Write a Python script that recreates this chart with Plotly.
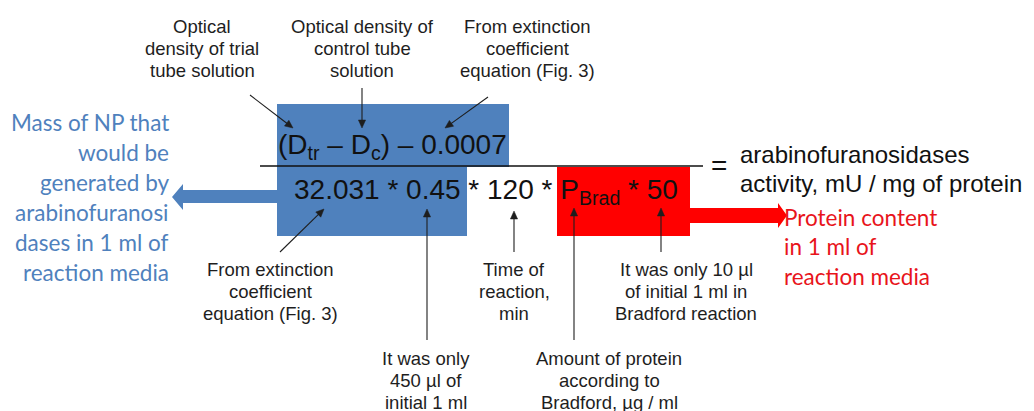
import math
import plotly.graph_objects as go

# ---------------- content ----------------
top_callouts = [
    "Optical<br>density of trial<br>tube solution",
    "Optical density of<br>control tube<br>solution",
    "From extinction<br>coefficient<br>equation (Fig. 3)",
]
bottom_callouts = [
    "From extinction<br>coefficient<br>equation (Fig. 3)",
    "It was only<br>450 µl of<br>initial 1 ml",
    "Time of<br>reaction,<br>min",
    "Amount of protein<br>according to<br>Bradford, µg / ml",
    "It was only 10 µl<br>of initial 1 ml in<br>Bradford reaction",
]
numerator = "(D<sub>tr</sub> – D<sub>c</sub>) – 0.0007"
denominator = "32.031 * 0.45 * 120 * P<sub>Brad</sub> * 50"
result_text = "arabinofuranosidases<br>activity, mU / mg of protein"
blue_note = "Mass of NP that<br>would be<br>generated by<br>arabinofuranosi<br>dases in 1 ml of<br>reaction media"
red_note = "Protein content<br>in 1 ml of<br>reaction media"

# ---------------- layout (pixel space) ----------------
W, H = 1034, 411
OFF = 8  # page body margin of the html page
BLUE = "#4f81bd"
RED = "#ff0000"
INK = "#1e1e1e"
ARIAL = "Liberation Sans, Arial, sans-serif"
CALIBRI = "Lato, Carlito, sans-serif"

# first-line centre of each callout
top_pos = [(202, 26), (362, 26), (527, 26)]
bottom_pos = [(270, 269), (426, 358), (514, 269), (609, 358), (686, 269)]
# thin arrows: (tail_x, tail_y, head_x, head_y)
thin_arrows = [
    (250, 95, 293, 128),
    (362, 88, 362, 128),
    (488, 97, 445, 128),
    (280, 252, 324, 209),
    (427, 340, 427, 209),
    (514, 252, 514, 211),
    (574, 340, 574, 208),
    (661, 252, 661, 208),
]

fig = go.Figure()
fig.add_trace(go.Scatter(x=[OFF, W], y=[OFF, H], mode="markers",
                         marker=dict(opacity=0), hoverinfo="skip", showlegend=False))

shapes = [
    dict(type="rect", x0=277, x1=509, y0=104, y1=167, fillcolor=BLUE, line_width=0, layer="below"),
    dict(type="rect", x0=277, x1=467, y0=165, y1=236, fillcolor=BLUE, line_width=0, layer="below"),
    dict(type="rect", x0=557, x1=690, y0=167, y1=236, fillcolor=RED, line_width=0, layer="below"),
    dict(type="path", path="M 277,190 L 183,190 L 183,184 L 172,197 L 183,210 L 183,203 L 277,203 Z",
         fillcolor=BLUE, line_width=0, layer="below"),
    dict(type="path", path="M 690,208 L 778,208 L 778,203 L 787,215.5 L 778,228 L 778,223 L 690,223 Z",
         fillcolor=RED, line_width=0, layer="below"),
    dict(type="line", x0=260, x1=703, y0=166, y1=166, line=dict(color="#111", width=1.6)),
]

# thin callout arrows drawn as a line + small filled head
HEAD_L, HEAD_W = 8.0, 3.6
for tx, ty, hx, hy in thin_arrows:
    dx, dy = hx - tx, hy - ty
    n = math.hypot(dx, dy)
    ux, uy = dx / n, dy / n
    bx, by = hx - ux * HEAD_L, hy - uy * HEAD_L
    px, py = -uy * HEAD_W, ux * HEAD_W
    shapes.append(dict(type="line", x0=tx, y0=ty, x1=bx + ux * 1, y1=by + uy * 1,
                       line=dict(color=INK, width=1.1)))
    shapes.append(dict(type="path",
                       path=f"M {hx},{hy} L {bx + px:.2f},{by + py:.2f} L {bx - px:.2f},{by - py:.2f} Z",
                       fillcolor=INK, line=dict(color=INK, width=0.5)))

ann = []


def add_lines(text, x, y0, step, anchor, font):
    for i, line in enumerate(text.split("<br>")):
        ann.append(dict(x=x, y=y0 + i * step, text=line, showarrow=False, xanchor=anchor,
                        yanchor="middle", font=font))


small = dict(family=ARIAL, size=18.5, color=INK)
for t, (x, y) in zip(top_callouts, top_pos):
    add_lines(t, x, y, 22, "center", small)
for t, (x, y) in zip(bottom_callouts, bottom_pos):
    add_lines(t, x, y, 22, "center", small)

big = dict(family=ARIAL, size=28, color="#111")
ann.append(dict(x=392, y=146, text=numerator, showarrow=False, xanchor="center", yanchor="middle", font=big))
ann.append(dict(x=486, y=191, text=denominator, showarrow=False, xanchor="center", yanchor="middle", font=big))
ann.append(dict(x=719, y=165, text="=", showarrow=False, xanchor="center", yanchor="middle", font=big))
add_lines(result_text, 738, 154, 29, "left", dict(family=ARIAL, size=24, color="#111"))
add_lines(blue_note, 171, 122, 30, "right", dict(family=CALIBRI, size=22.5, color=BLUE))
add_lines(red_note, 782, 217, 29.5, "left", dict(family=CALIBRI, size=22.5, color="#e8141b"))

fig.update_layout(
    width=W, height=H, margin=dict(l=0, r=0, t=0, b=0),
    paper_bgcolor="white", plot_bgcolor="white",
    xaxis=dict(range=[OFF, W + OFF], visible=False, fixedrange=True),
    yaxis=dict(range=[H + OFF, OFF], visible=False, fixedrange=True),
    shapes=shapes, annotations=ann, showlegend=False,
)
fig.write_html("out.html")
